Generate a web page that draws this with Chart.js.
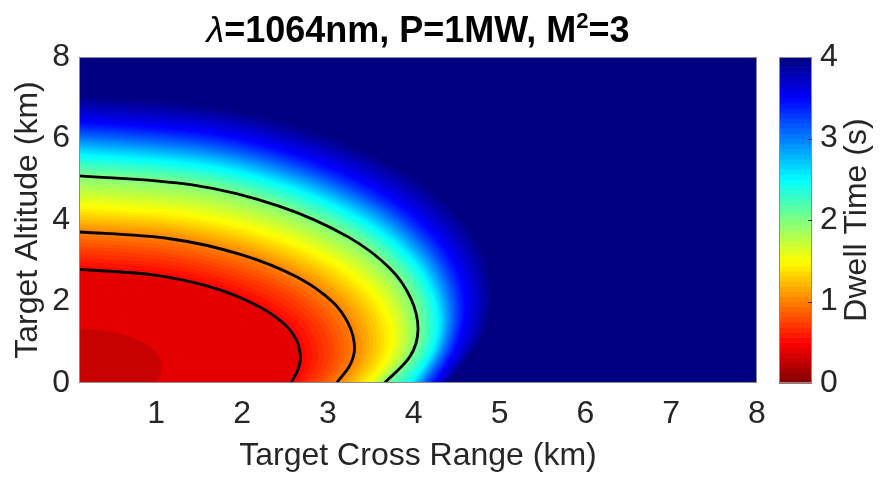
<!DOCTYPE html>
<html>
<head>
<meta charset="utf-8">
<script src="https://cdn.jsdelivr.net/npm/chart.js@4.4.0/dist/chart.umd.min.js"></script>
<style>
  html, body { margin: 0; padding: 0; background: #fff; }
</style>
</head>
<body>
<canvas id="chart" width="883" height="480"></canvas>
<script>
"use strict";

// --- Veri --------------------------------------------------------------------

const xTicks = [1, 2, 3, 4, 5, 6, 7, 8];
const yTicks = [0, 2, 4, 6, 8];
const cbTicks = [0, 1, 2, 3, 4];

// dwell time seviyeleri (s), disaridan iceriye
const levels = [4, 3.75, 3.5, 3.25, 3, 2.75, 2.5, 2.25, 2, 1.75, 1.5, 1.25, 1, 0.75, 0.5, 0.3];
const blackLevels = [2, 1, 0.5];
// icinde deger neredeyse sabit olan bant (duz kirmizi plato)
const flatLevels = [0.5];

// her seviyenin egrisi: [cross range km, altitude km], tepeden yere
const levelCurves = [
  [[0, 7.1], [1.72, 6.79], [2.95, 6.12], [3.94, 5.14], [4.53, 4.12], [4.82, 3.18], [4.92, 2.2], [4.8, 1.1], [4.4, 0]],
  [[0, 6.75], [1.67, 6.45], [2.86, 5.8], [3.81, 4.86], [4.38, 3.87], [4.66, 2.96], [4.76, 2.02], [4.66, 1.01], [4.33, 0]],
  [[0, 6.43], [1.61, 6.14], [2.76, 5.52], [3.68, 4.61], [4.23, 3.66], [4.51, 2.78], [4.6, 1.87], [4.51, 0.94], [4.25, 0]],
  [[0, 6.2], [1.58, 5.92], [2.7, 5.31], [3.6, 4.42], [4.14, 3.49], [4.41, 2.64], [4.5, 1.75], [4.42, 0.88], [4.17, 0]],
  [[0, 6.0], [1.55, 5.72], [2.65, 5.13], [3.54, 4.26], [4.07, 3.35], [4.33, 2.52], [4.42, 1.65], [4.34, 0.83], [4.1, 0]],
  [[0, 5.8], [1.52, 5.53], [2.61, 4.95], [3.48, 4.1], [4.0, 3.22], [4.26, 2.4], [4.35, 1.56], [4.27, 0.78], [4.03, 0]],
  [[0, 5.6], [1.5, 5.34], [2.57, 4.78], [3.42, 3.95], [3.94, 3.09], [4.19, 2.3], [4.28, 1.48], [4.2, 0.74], [3.97, 0]],
  [[0, 5.35], [1.46, 5.1], [2.5, 4.56], [3.34, 3.77], [3.84, 2.95], [4.09, 2.19], [4.17, 1.4], [4.09, 0.7], [3.82, 0]],
  [[0, 5.1], [1.42, 4.86], [2.43, 4.34], [3.24, 3.58], [3.73, 2.8], [3.97, 2.06], [4.05, 1.31], [3.96, 0.66], [3.66, 0]],
  [[0, 4.72], [1.37, 4.5], [2.34, 4.02], [3.12, 3.31], [3.59, 2.58], [3.82, 1.9], [3.9, 1.2], [3.82, 0.6], [3.57, 0]],
  [[0, 4.35], [1.31, 4.14], [2.24, 3.7], [2.99, 3.05], [3.44, 2.37], [3.67, 1.75], [3.74, 1.1], [3.67, 0.55], [3.47, 0]],
  [[0, 4.02], [1.24, 3.83], [2.12, 3.42], [2.82, 2.81], [3.25, 2.18], [3.46, 1.6], [3.53, 1.0], [3.47, 0.5], [3.3, 0]],
  [[0, 3.72], [1.16, 3.54], [1.99, 3.15], [2.65, 2.59], [3.05, 2.0], [3.24, 1.45], [3.31, 0.89], [3.26, 0.45], [3.1, 0]],
  [[0, 3.28], [1.06, 3.12], [1.81, 2.78], [2.42, 2.28], [2.78, 1.75], [2.96, 1.27], [3.02, 0.77], [2.98, 0.39], [2.85, 0]],
  [[0, 2.8], [0.94, 2.66], [1.61, 2.37], [2.14, 1.94], [2.47, 1.49], [2.63, 1.07], [2.68, 0.64], [2.65, 0.32], [2.57, 0]],
  [[0, 1.35], [0.37, 1.29], [0.64, 1.17], [0.85, 0.99], [0.98, 0.8], [1.04, 0.63], [1.06, 0.45], [1.05, 0.23], [1.0, 0]],
];

const titleParts = [
  { text: "λ", sup: false, greek: true },
  { text: "=1064nm, P=1MW, M", sup: false },
  { text: "2", sup: true },
  { text: "=3", sup: false },
];

// --- Yardimcilar -------------------------------------------------------------

const FONT = '"Liberation Sans", Arial, Helvetica, sans-serif';
const TXT = "#262626";
const SHADES = 5; // her bant icin ara ton sayisi (sadece boyama)

// MATLAB jet, ters: 0 s koyu kirmizi, 4 s koyu mavi
function jet(v) {
  const t = Math.min(1, Math.max(0, 1 - v / 4));
  const c = (d) => Math.round(255 * Math.min(1, Math.max(0, 1.5 - Math.abs(4 * t - d))));
  return `rgb(${c(3)},${c(2)},${c(1)})`;
}

// Catmull-Rom ile yumusak yol
function smoothPath(ctx, pts) {
  ctx.moveTo(pts[0][0], pts[0][1]);
  for (let i = 0; i < pts.length - 1; i++) {
    const p0 = pts[i - 1] || pts[i];
    const p1 = pts[i];
    const p2 = pts[i + 1];
    const p3 = pts[i + 2] || p2;
    ctx.bezierCurveTo(
      p1[0] + (p2[0] - p0[0]) / 6, p1[1] + (p2[1] - p0[1]) / 6,
      p2[0] - (p3[0] - p1[0]) / 6, p2[1] - (p3[1] - p1[1]) / 6,
      p2[0], p2[1]
    );
  }
}

const datasets = levels.map((lv, i) => {
  const black = blackLevels.includes(lv);
  return {
    label: `${lv} s`,
    data: levelCurves[i].map(([x, y]) => ({ x, y })),
    tension: 0.35,
    fill: false,
    pointRadius: 0,
    borderColor: black ? "#000" : "rgba(0,0,0,0)",
    borderWidth: black ? 2.8 : 0,
  };
});

// --- Plugin: dolgu, kutu, colorbar, baslik -----------------------------------

const fieldPlugin = {
  id: "field",
  beforeDatasetsDraw(chart) {
    const { ctx, chartArea: a, scales } = chart;
    const sx = scales.x;
    const sy = scales.y;
    const px = levelCurves.map((c) => c.map(([x, y]) => [sx.getPixelForValue(x), sy.getPixelForValue(y)]));
    const x0 = sx.getPixelForValue(0);
    const y0 = sy.getPixelForValue(0);
    ctx.save();
    ctx.beginPath();
    ctx.rect(a.left, a.top, a.width, a.height);
    ctx.clip();
    ctx.fillStyle = jet(levels[0] + 0.5);
    ctx.fillRect(a.left, a.top, a.width, a.height);
    levels.forEach((lv, i) => {
      const inner = levels[i + 1];
      const steps = inner === undefined || flatLevels.includes(lv) ? 1 : SHADES;
      for (let s = 0; s < steps; s++) {
        const f = s / steps;
        const pts = inner === undefined
          ? px[i]
          : px[i].map((p, k) => [p[0] + (px[i + 1][k][0] - p[0]) * f, p[1] + (px[i + 1][k][1] - p[1]) * f]);
        const vTop = inner === undefined ? lv : lv + (inner - lv) * f;
        const vBot = inner === undefined ? lv - 0.04 : lv + (inner - lv) * (s + 1) / steps;
        ctx.beginPath();
        smoothPath(ctx, pts);
        ctx.lineTo(x0, y0);
        ctx.closePath();
        ctx.fillStyle = jet((vTop + vBot) / 2);
        ctx.fill();
      }
    });
    ctx.restore();
  },
  afterDatasetsDraw(chart) {
    const { ctx, chartArea: a } = chart;
    ctx.save();
    ctx.strokeStyle = "#8c8c8c";
    ctx.lineWidth = 1;
    ctx.strokeRect(a.left + 0.5, a.top + 0.5, a.width - 1, a.height - 1);
    ctx.restore();
  },
  afterDraw(chart) {
    const { ctx, chartArea: a, scales } = chart;
    const cb = scales.cb;
    const left = a.right + 22;
    const w = 33;
    ctx.save();
    for (let k = 0; k < 64; k++) {
      const v0 = (k * 4) / 64;
      const v1 = ((k + 1) * 4) / 64;
      const p0 = cb.getPixelForValue(v0);
      const p1 = cb.getPixelForValue(v1);
      ctx.fillStyle = jet((v0 + v1) / 2);
      ctx.fillRect(left, p1, w, p0 - p1 + 0.6);
    }
    ctx.strokeStyle = "#8c8c8c";
    ctx.lineWidth = 1;
    ctx.strokeRect(left + 0.5, a.top + 0.5, w - 1, a.height - 1);
    ctx.strokeStyle = TXT;
    cbTicks.slice(1, -1).forEach((v) => {
      const p = Math.round(cb.getPixelForValue(v)) + 0.5;
      ctx.beginPath();
      ctx.moveTo(left + w - 4, p);
      ctx.lineTo(left + w, p);
      ctx.stroke();
    });

    // colorbar etiketi
    ctx.translate(857, (a.top + a.bottom) / 2);
    ctx.rotate(-Math.PI / 2);
    ctx.fillStyle = TXT;
    ctx.font = `32px ${FONT}`;
    ctx.textAlign = "center";
    ctx.textBaseline = "middle";
    ctx.fillText("Dwell Time (s)", 0, 0);
    ctx.restore();

    // baslik
    ctx.save();
    const fontFor = (p) =>
      p.sup ? `bold 22px ${FONT}` : p.greek ? `italic 36px ${FONT}` : `bold 36px ${FONT}`;
    let total = 0;
    titleParts.forEach((p) => {
      ctx.font = fontFor(p);
      p.w = ctx.measureText(p.text).width;
      total += p.w;
    });
    let x = (a.left + a.right) / 2 - total / 2;
    const base = 42;
    ctx.fillStyle = "#000";
    ctx.textBaseline = "alphabetic";
    ctx.textAlign = "left";
    titleParts.forEach((p) => {
      ctx.font = fontFor(p);
      ctx.fillText(p.text, x, p.sup ? base - 14 : base);
      x += p.w;
    });
    ctx.restore();
  },
};

// --- Grafik ------------------------------------------------------------------

const setTicks = (list) => (s) => {
  s.ticks = list.map((v) => ({ value: v }));
};

new Chart(document.getElementById("chart"), {
  type: "line",
  data: { datasets },
  options: {
    responsive: false,
    animation: false,
    events: [],
    layout: { padding: { top: 57, left: 0, right: 0, bottom: 0 } },
    plugins: {
      legend: { display: false },
      tooltip: { enabled: false },
      title: { display: false },
    },
    scales: {
      x: {
        type: "linear",
        min: 0.1,
        max: 8,
        grid: { display: false, drawTicks: false },
        border: { display: false },
        afterBuildTicks: setTicks(xTicks),
        afterFit: (s) => { s.height = 97; },
        ticks: { padding: 12, color: TXT, font: { family: FONT, size: 32 }, maxRotation: 0, autoSkip: false },
        title: {
          display: true,
          text: "Target Cross Range (km)",
          color: TXT,
          font: { family: FONT, size: 32 },
          padding: { top: 0, bottom: 5 },
        },
      },
      y: {
        type: "linear",
        min: 0,
        max: 8,
        grid: { display: false, drawTicks: false },
        border: { display: false },
        afterBuildTicks: setTicks(yTicks),
        afterFit: (s) => {
          s.width = 79;
          s.paddingTop = 20;
          s.paddingBottom = 20;
        },
        ticks: { padding: 9, color: TXT, font: { family: FONT, size: 32 } },
        title: {
          display: true,
          text: "Target Altitude (km)",
          color: TXT,
          font: { family: FONT, size: 32 },
          padding: { top: 9, bottom: 0 },
        },
      },
      cb: {
        type: "linear",
        position: "right",
        min: 0,
        max: 4,
        grid: { display: false, drawTicks: false },
        border: { display: false },
        afterBuildTicks: setTicks(cbTicks),
        afterFit: (s) => {
          s.width = 126;
          s.paddingTop = 20;
          s.paddingBottom = 20;
        },
        ticks: { padding: 63, color: TXT, font: { family: FONT, size: 32 } },
      },
    },
  },
  plugins: [fieldPlugin],
});
</script>
</body>
</html>
